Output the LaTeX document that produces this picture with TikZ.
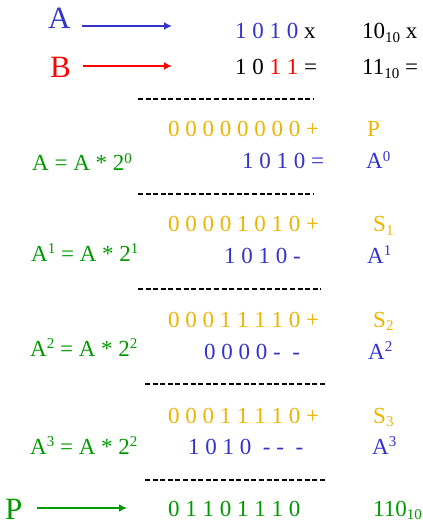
\documentclass[tikz,border=0pt]{standalone}
\usepackage{fontspec}
\setmainfont{Liberation Serif}
\usetikzlibrary{arrows.meta}
\definecolor{ablue}{RGB}{51,51,204}
\definecolor{sgold}{RGB}{240,180,0}
\definecolor{pgreen}{RGB}{0,153,0}
\newcommand{\lowidx}[1]{\raisebox{-0.35ex}{\fontsize{15}{15}\selectfont #1}}
\newcommand{\upidx}[1]{\raisebox{0.75ex}{\fontsize{15}{15}\selectfont #1}}

\begin{document}
\begin{tikzpicture}[x=1pt,y=-1pt,
  txt/.style={inner sep=0pt,anchor=base west,font=\fontsize{23}{26}\selectfont},
  big/.style={inner sep=0pt,anchor=base west,font=\fontsize{31}{34}\selectfont},
  sig/.style={-{Latex[length=8pt,width=8pt]},line width=2.2pt},
  sep/.style={dash pattern=on 5pt off 2.6pt,line width=1.1pt}]
\useasboundingbox (0,0) rectangle (422,526);
% operands A and B
\node[big,ablue] (lblA) at (48,29) {A};
\node[big,red] (lblB) at (50,78) {B};
\coordinate (aTail) at (82,26);
\coordinate (aHead) at (172,26);
\coordinate (bTail) at (83,66);
\coordinate (bHead) at (172,66);
\draw[sig,ablue] (aTail) -- (aHead);
\draw[sig,red] (bTail) -- (bHead);
\node[txt] (opA) at (235,39) {\textcolor{ablue}{1 0 1 0} x};
\node[txt] (opB) at (235,75) {1 0 \textcolor{red}{1 1} =};
\node[txt] (decA) at (362,39) {10\lowidx{10} x};
\node[txt] (decB) at (362,75) {11\lowidx{10} =};
% separators
\foreach \y/\xa/\xb in {99/138/313,194/138/313,289/138/321,384/145/327,480/145/327}
  \draw[sep] (\xa,\y) -- (\xb,\y);
% step 0
\node[txt,sgold] (sum0) at (168,137) {0 0 0 0 0 0 0 0 +};
\node[txt,sgold] (tag0) at (367,137) {P};
\node[txt,ablue] (sh0) at (242,169) {1 0 1 0 =};
\node[txt,ablue] (pw0) at (366,169) {A\upidx{0}};
\node[txt,pgreen] (eq0) at (32,171) {A = A * 2\upidx{0}};
% step 1
\node[txt,sgold] (sum1) at (168,232) {0 0 0 0 1 0 1 0 +};
\node[txt,sgold] (tag1) at (373,232) {S\lowidx{1}};
\node[txt,ablue] (sh1) at (224,263) {1 0 1 0 -};
\node[txt,ablue] (pw1) at (367,263) {A\upidx{1}};
\node[txt,pgreen] (eq1) at (31,261) {A\upidx{1} = A * 2\upidx{1}};
% step 2
\node[txt,sgold] (sum2) at (168,327) {0 0 0 1 1 1 1 0 +};
\node[txt,sgold] (tag2) at (373,327) {S\lowidx{2}};
\node[txt,ablue] (sh2) at (204,359) {0 0 0 0 -~~-};
\node[txt,ablue] (pw2) at (368,359) {A\upidx{2}};
\node[txt,pgreen] (eq2) at (30,356) {A\upidx{2} = A * 2\upidx{2}};
% step 3
\node[txt,sgold] (sum3) at (168,423) {0 0 0 1 1 1 1 0 +};
\node[txt,sgold] (tag3) at (373,423) {S\lowidx{3}};
\node[txt,ablue] (sh3) at (188,454) {1 0 1 0~~- -~~-};
\node[txt,ablue] (pw3) at (372,454) {A\upidx{3}};
\node[txt,pgreen] (eq3) at (30,454) {A\upidx{3} = A * 2\upidx{2}};
% result
\node[big,pgreen] (lblP) at (5,519) {P};
\coordinate (pTail) at (37,508);
\coordinate (pHead) at (127,508);
\draw[sig,pgreen] (pTail) -- (pHead);
\node[txt,pgreen] (res) at (168,516) {0 1 1 0 1 1 1 0};
\node[txt,pgreen] (resDec) at (373,516) {110\lowidx{10}};
\end{tikzpicture}
\end{document}
